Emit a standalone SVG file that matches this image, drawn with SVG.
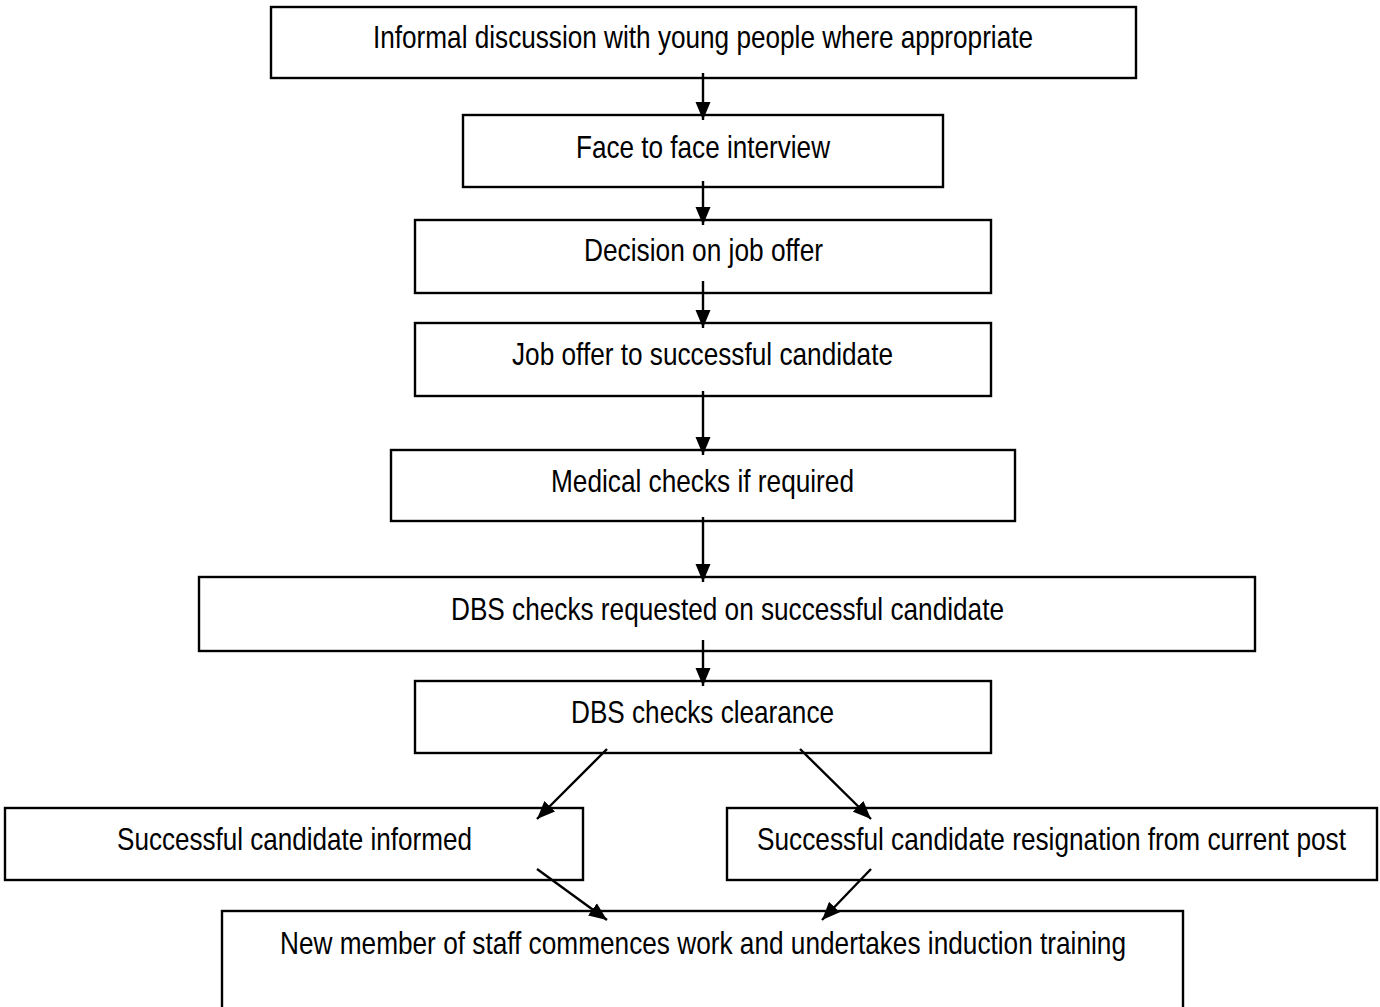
<svg xmlns="http://www.w3.org/2000/svg" width="1380" height="1007" viewBox="0 0 1380 1007">
<style>
.box{fill:#fff;stroke:#000;stroke-width:2.4}
.lbl{font-family:"Liberation Sans Narrow","Arial Narrow","Liberation Sans",sans-serif;font-size:32px;fill:#000;text-anchor:middle}
.edge{stroke:#000;stroke-width:2.4;fill:none}
</style>
<defs>
<marker id="ah" markerUnits="userSpaceOnUse" markerWidth="18" markerHeight="16" viewBox="0 0 18 15" refX="18" refY="7.5" orient="auto">
<path d="M0,0 L18,7.5 L0,15 Z" fill="#000"/>
</marker>
</defs>
<rect width="1380" height="1007" fill="#fff"/>
<g id="n1"><rect class="box" x="271" y="7" width="865" height="71"/><text class="lbl" x="703" y="48" textLength="660" lengthAdjust="spacingAndGlyphs">Informal discussion with young people where appropriate</text></g>
<g id="n2"><rect class="box" x="463" y="115" width="480" height="72"/><text class="lbl" x="703" y="158" textLength="254" lengthAdjust="spacingAndGlyphs">Face to face interview</text></g>
<g id="n3"><rect class="box" x="415" y="220" width="576" height="73"/><text class="lbl" x="703.5" y="261" textLength="239" lengthAdjust="spacingAndGlyphs">Decision on job offer</text></g>
<g id="n4"><rect class="box" x="415" y="323" width="576" height="73"/><text class="lbl" x="702.5" y="365" textLength="381" lengthAdjust="spacingAndGlyphs">Job offer to successful candidate</text></g>
<g id="n5"><rect class="box" x="391" y="450" width="624" height="71"/><text class="lbl" x="702.5" y="492" textLength="303" lengthAdjust="spacingAndGlyphs">Medical checks if required</text></g>
<g id="n6"><rect class="box" x="199" y="577" width="1056" height="74"/><text class="lbl" x="727.5" y="620" textLength="553" lengthAdjust="spacingAndGlyphs">DBS checks requested on successful candidate</text></g>
<g id="n7"><rect class="box" x="415" y="681" width="576" height="72"/><text class="lbl" x="702.5" y="723" textLength="263" lengthAdjust="spacingAndGlyphs">DBS checks clearance</text></g>
<g id="n8"><rect class="box" x="5" y="808" width="578" height="72"/><text class="lbl" x="294.5" y="850" textLength="355" lengthAdjust="spacingAndGlyphs">Successful candidate informed</text></g>
<g id="n9"><rect class="box" x="727" y="808" width="650" height="72"/><text class="lbl" x="1051.5" y="850" textLength="589" lengthAdjust="spacingAndGlyphs">Successful candidate resignation from current post</text></g>
<g id="n10"><rect class="box" x="222" y="911" width="961" height="100"/><text class="lbl" x="703" y="954" textLength="846" lengthAdjust="spacingAndGlyphs">New member of staff commences work and undertakes induction training</text></g>
<g id="edges">
<line class="edge" x1="703" y1="73" x2="703" y2="120" marker-end="url(#ah)"/>
<line class="edge" x1="703" y1="181" x2="703" y2="225" marker-end="url(#ah)"/>
<line class="edge" x1="703" y1="281" x2="703" y2="328" marker-end="url(#ah)"/>
<line class="edge" x1="703" y1="391" x2="703" y2="455" marker-end="url(#ah)"/>
<line class="edge" x1="703" y1="517" x2="703" y2="582" marker-end="url(#ah)"/>
<line class="edge" x1="703" y1="640" x2="703" y2="686" marker-end="url(#ah)"/>
<line class="edge" x1="607" y1="749" x2="537" y2="819" marker-end="url(#ah)"/>
<line class="edge" x1="800" y1="749" x2="871" y2="819" marker-end="url(#ah)"/>
<line class="edge" x1="537" y1="869" x2="607" y2="920" marker-end="url(#ah)"/>
<line class="edge" x1="871" y1="869" x2="822" y2="920" marker-end="url(#ah)"/>
</g>
</svg>
